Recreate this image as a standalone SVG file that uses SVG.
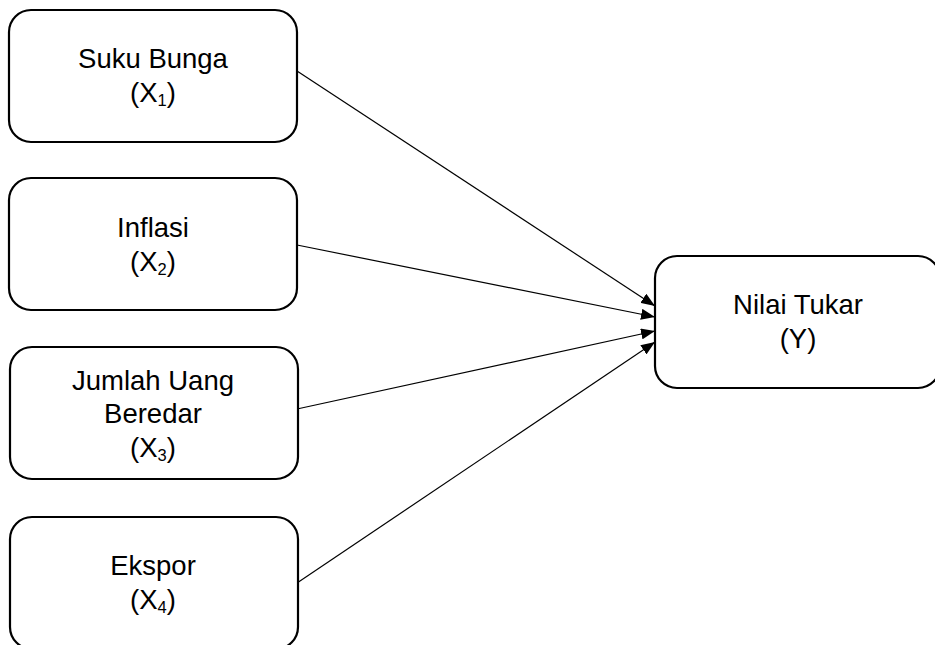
<svg xmlns="http://www.w3.org/2000/svg" width="935" height="645" viewBox="0 0 935 645">
<defs>
<marker id="arr" viewBox="0 0 14 11" refX="14" refY="5.5" markerWidth="14" markerHeight="11" markerUnits="userSpaceOnUse" orient="auto">
<path d="M0,0 L14,5.5 L0,11 Z" fill="#000"/>
</marker>
<style>
.box{fill:#fff;stroke:#000;stroke-width:2.2}
.t{font-family:"Liberation Sans",Arial,sans-serif;font-size:27.5px;fill:#000;text-anchor:middle}
.s{font-size:16.5px}
.c{stroke:#000;stroke-width:1.2;fill:none;marker-end:url(#arr)}
</style>
</defs>
<rect width="935" height="645" fill="#fff"/>
<g id="connectors">
<line class="c" x1="297" y1="71" x2="655" y2="306"/>
<line class="c" x1="297" y1="245" x2="655" y2="317"/>
<line class="c" x1="297" y1="409" x2="655" y2="331"/>
<line class="c" x1="297" y1="583" x2="655" y2="342"/>
</g>
<g id="x1">
<rect class="box" x="9" y="10" width="288" height="132" rx="22"/>
<text class="t" x="153" y="68">Suku Bunga</text>
<text class="t" x="153" y="102">(X<tspan class="s" dy="4">1</tspan><tspan dy="-4">)</tspan></text>
</g>
<g id="x2">
<rect class="box" x="9" y="178" width="288" height="132" rx="22"/>
<text class="t" x="153" y="237">Inflasi</text>
<text class="t" x="153" y="271">(X<tspan class="s" dy="4">2</tspan><tspan dy="-4">)</tspan></text>
</g>
<g id="x3">
<rect class="box" x="10" y="347" width="288" height="132" rx="22"/>
<text class="t" x="153" y="390">Jumlah Uang</text>
<text class="t" x="153" y="423">Beredar</text>
<text class="t" x="153" y="457">(X<tspan class="s" dy="4">3</tspan><tspan dy="-4">)</tspan></text>
</g>
<g id="x4">
<rect class="box" x="10" y="517" width="288" height="132" rx="22"/>
<text class="t" x="153" y="575">Ekspor</text>
<text class="t" x="153" y="609">(X<tspan class="s" dy="4">4</tspan><tspan dy="-4">)</tspan></text>
</g>
<g id="y">
<rect class="box" x="655" y="256" width="285" height="132" rx="22"/>
<text class="t" x="798" y="314">Nilai Tukar</text>
<text class="t" x="798" y="348">(Y)</text>
</g>
</svg>
